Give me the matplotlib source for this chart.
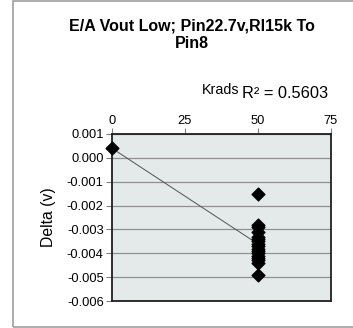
import numpy as np
import matplotlib
matplotlib.use("Agg")
import matplotlib.pyplot as plt
from matplotlib.patches import Rectangle

plt.rcParams['font.family'] = ['Liberation Sans', 'DejaVu Sans']

title = "E/A Vout Low; Pin22.7v,Rl15k To\nPin8"
x_label = "Krads"
y_label = "Delta (v)"
r2_text = "R\u00b2 = 0.5603"

krads = [0] + [50] * 17
delta = [0.0004, -0.0015, -0.0028, -0.0029, -0.0031, -0.0033, -0.0034, -0.0035,
         -0.0036, -0.0037, -0.0038, -0.0039, -0.0040, -0.0041, -0.0042, -0.0043,
         -0.0044, -0.0049]

x_ticks = [0, 25, 50, 75]
y_ticks = [0.001, 0.000, -0.001, -0.002, -0.003, -0.004, -0.005, -0.006]

W, H = 353, 328
fig = plt.figure(figsize=(W / 100, H / 100), dpi=100)
fig.patch.set_facecolor('white')

# outer chart frame
fig.patches.append(Rectangle((13 / W, 1 - 327 / H), (W + 10 - 13) / W, (327 - 1) / H,
                             transform=fig.transFigure, fill=False,
                             edgecolor='#a0a0a0', linewidth=1.2))

l, r, t, b = 112, 331, 134, 301
ax = fig.add_axes([l / W, 1 - b / H, (r - l) / W, (b - t) / H])
ax.set_facecolor('#e4eaea')

ax.set_xlim(0, 75)
ax.set_ylim(-0.006, 0.001)
ax.set_xticks(x_ticks)
ax.set_yticks(y_ticks)
ax.set_yticklabels([f"{v:.3f}" for v in y_ticks])
ax.xaxis.tick_top()
ax.xaxis.set_label_position('top')
ax.tick_params(axis='both', labelsize=9.3, length=4, width=0.8, color='#808080', pad=2)
ax.tick_params(axis='x', pad=1)
ax.grid(axis='y', color='#909090', linewidth=0.9)
ax.set_axisbelow(True)
for s in ax.spines.values():
    s.set_linewidth(1.3)
    s.set_color('#202020')

ax.scatter(krads, delta, marker='D', s=42, color='black', zorder=3, clip_on=False)

xs = np.array(krads, dtype=float)
ys = np.array(delta)
m, c = np.polyfit(xs, ys, 1)
xl = np.array([0, 50])
ax.plot(xl, m * xl + c, color='#505050', linewidth=0.7, zorder=2)

ax.set_ylabel(y_label, fontsize=11.3, labelpad=8)
fig.text(202 / W, 1 - 94 / H, x_label, fontsize=10.3, ha='left', va='baseline')
fig.text(242 / W, 1 - 98 / H, r2_text, fontsize=11.8, ha='left', va='baseline')
fig.text(192 / W, 1 - 35 / H, title, fontsize=11.5, fontweight='bold',
         ha='center', va='center', linespacing=1.2)

fig.savefig('out.png', dpi=100)
